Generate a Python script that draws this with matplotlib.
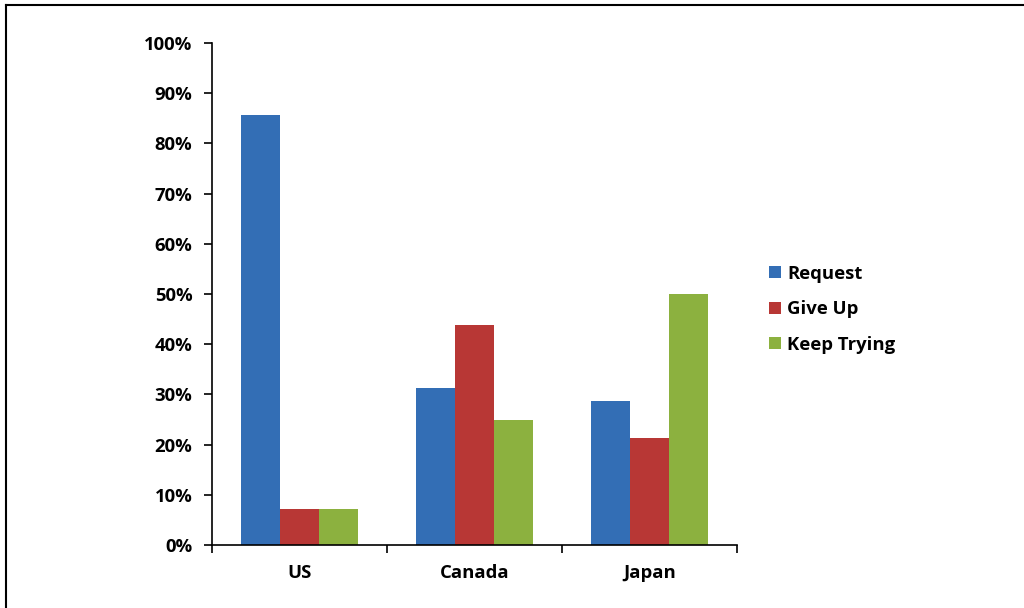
import matplotlib
matplotlib.use("Agg")
import matplotlib.pyplot as plt
from matplotlib.lines import Line2D
from matplotlib.patches import Patch
import numpy as np

categories = ["US", "Canada", "Japan"]
series_names = ["Request", "Give Up", "Keep Trying"]
request = [85.7, 31.25, 28.6]
give_up = [7.1, 43.75, 21.4]
keep_trying = [7.1, 25.0, 50.0]
yticks = [0, 10, 20, 30, 40, 50, 60, 70, 80, 90, 100]
colors = ["#336EB5", "#B83735", "#8CB13F"]

plt.rcParams['font.family'] = ['Open Sans', 'DejaVu Sans']
plt.rcParams['font.weight'] = 'bold'

fig = plt.figure(figsize=(10.24, 6.08), dpi=100)
ax = fig.add_axes([212/1024, 1 - 545/608, 525/1024, 502/608])

x = np.arange(len(categories))
w = 0.223
for i, (vals, c, name) in enumerate(zip([request, give_up, keep_trying], colors, series_names)):
    ax.bar(x + (i - 1) * w, vals, width=w, color=c, label=name, linewidth=0)

fs = 13.3
ax.set_xlim(-0.5, len(categories) - 0.5)
ax.set_ylim(0, 100)
ax.set_yticks(yticks)
ax.set_yticklabels([f"{v}%" for v in yticks], fontsize=fs, fontweight='bold')
ax.set_xticks(x)
ax.set_xticklabels(categories, fontsize=fs, fontweight='bold')
ax.tick_params(axis='x', length=0, pad=14)
ax.set_xticks(np.arange(len(categories) + 1) - 0.5, minor=True)
ax.tick_params(axis='x', which='minor', length=6, width=1.2, direction='out')
ax.tick_params(axis='y', length=6, width=1.2, direction='out', pad=8)
for s in ['top', 'right']:
    ax.spines[s].set_visible(False)
for s in ['left', 'bottom']:
    ax.spines[s].set_linewidth(1.2)
    ax.spines[s].set_color('black')

handles = [Patch(facecolor=c, edgecolor='none') for c in colors]
leg = fig.legend(handles, series_names, loc='upper left', bbox_to_anchor=(752/1024, 1 - 248/608),
                 frameon=False, prop={'size': fs, 'weight': 'bold'},
                 handlelength=0.65, handleheight=0.65, handletextpad=0.35, labelspacing=0.95)

fig.add_artist(Line2D([6/1024, 6/1024], [0, 1 - 5/608], transform=fig.transFigure, color='black', linewidth=1.5))
fig.add_artist(Line2D([6/1024, 1], [1 - 5/608, 1 - 5/608], transform=fig.transFigure, color='black', linewidth=1.5))

fig.savefig("out.png", dpi=100)
